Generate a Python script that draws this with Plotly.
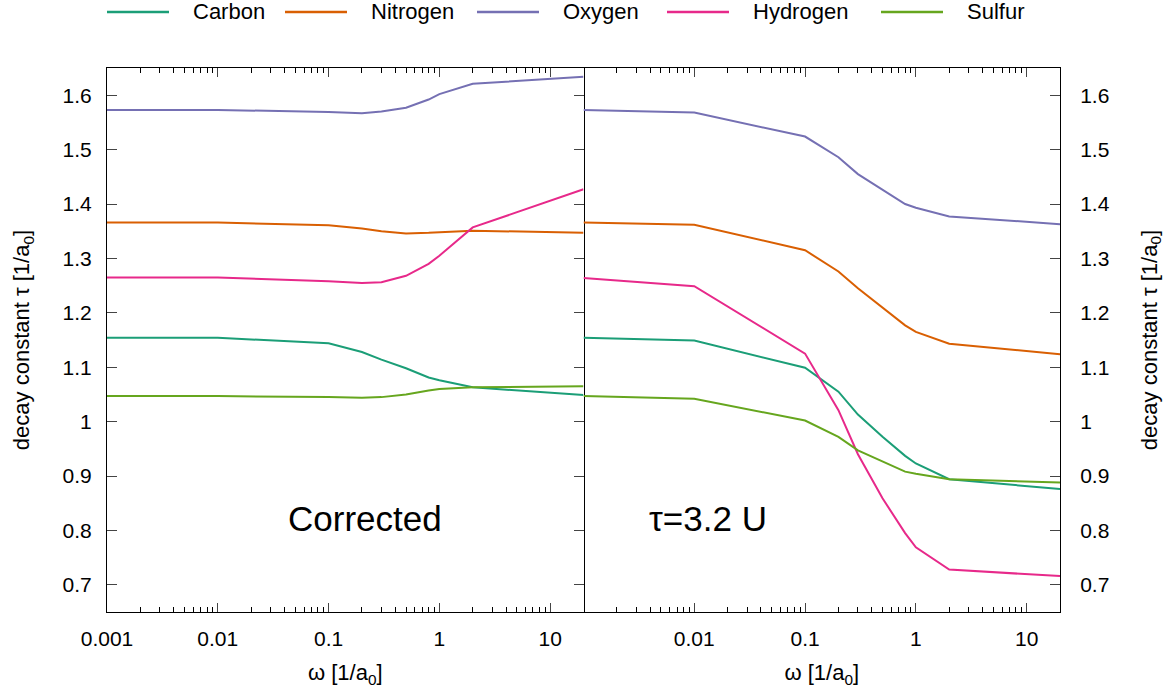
import plotly.graph_objects as go

# Frequency grid (1/a0) shared by both panels
omega = [0.001, 0.01, 0.1, 0.2, 0.3, 0.5, 0.8, 1, 2, 20]

elements = ["Carbon", "Nitrogen", "Oxygen", "Hydrogen", "Sulfur"]
colors = ["#1b9e77", "#d95f02", "#7570b3", "#e7298a", "#66a61e"]

# Left panel: corrected decay constants
corr_carbon = [1.154, 1.154, 1.144, 1.128, 1.114, 1.098, 1.081, 1.076, 1.063, 1.049]
corr_nitrogen = [1.366, 1.366, 1.361, 1.355, 1.350, 1.346, 1.347, 1.348, 1.351, 1.347]
corr_oxygen = [1.573, 1.573, 1.569, 1.567, 1.570, 1.577, 1.592, 1.602, 1.621, 1.634]
corr_hydrogen = [1.265, 1.265, 1.258, 1.255, 1.256, 1.268, 1.290, 1.305, 1.357, 1.427]
corr_sulfur = [1.047, 1.047, 1.045, 1.044, 1.045, 1.050, 1.057, 1.060, 1.063, 1.065]

# Right panel: tau = 3.2 U
u_carbon = [1.154, 1.149, 1.099, 1.055, 1.013, 0.972, 0.937, 0.923, 0.894, 0.876]
u_nitrogen = [1.366, 1.362, 1.315, 1.276, 1.245, 1.209, 1.177, 1.165, 1.143, 1.124]
u_oxygen = [1.573, 1.568, 1.524, 1.486, 1.455, 1.426, 1.400, 1.393, 1.377, 1.363]
u_hydrogen = [1.264, 1.249, 1.125, 1.021, 0.940, 0.859, 0.795, 0.769, 0.728, 0.716]
u_sulfur = [1.047, 1.042, 1.002, 0.972, 0.947, 0.926, 0.908, 0.904, 0.894, 0.888]

left_series = [corr_carbon, corr_nitrogen, corr_oxygen, corr_hydrogen, corr_sulfur]
right_series = [u_carbon, u_nitrogen, u_oxygen, u_hydrogen, u_sulfur]

y_ticks = [0.7, 0.8, 0.9, 1.0, 1.1, 1.2, 1.3, 1.4, 1.5, 1.6]
y_ticktext = ["0.7", "0.8", "0.9", "1", "1.1", "1.2", "1.3", "1.4", "1.5", "1.6"]
x_ticks_left = [0.001, 0.01, 0.1, 1, 10]
x_ticktext_left = ["0.001", "0.01", "0.1", "1", "10"]
x_ticks_right = [0.01, 0.1, 1, 10]
x_ticktext_right = ["0.01", "0.1", "1", "10"]

FONT = "Liberation Sans, Arial, sans-serif"
W, H = 1175, 693
ML, MR, MT, MB = 107, 115, 68, 81
PW, PH = W - ML - MR, H - MT - MB

fig = go.Figure()
for name, col, yl, yr in zip(elements, colors, left_series, right_series):
    fig.add_trace(go.Scatter(x=omega, y=yl, mode="lines", name=name,
                             line=dict(color=col, width=2),
                             xaxis="x", yaxis="y", showlegend=False))
    fig.add_trace(go.Scatter(x=omega, y=yr, mode="lines", name=name,
                             line=dict(color=col, width=2),
                             xaxis="x2", yaxis="y2", showlegend=False))

minor_vals = [m * 10 ** e for e in range(-3, 2) for m in range(2, 10)]
x_range = [-3, 1.30103]
y_range = [0.65, 1.65]

common_x = dict(type="log", range=x_range, ticks="inside", ticklen=9,
                showline=True, linecolor="black", linewidth=1, mirror="allticks",
                showgrid=False, zeroline=False, ticklabelstandoff=8,
                tickfont=dict(size=21, color="black"),
                minor=dict(tickvals=minor_vals, ticks="inside", ticklen=5,
                           tickcolor="black", showgrid=False),
                title=dict(text="ω [1/a<sub>0</sub>]", font=dict(size=22, color="black"),
                           standoff=15))

y_title_left = dict(text="decay constant τ [1/a<sub>0</sub>]",
                    font=dict(size=22, color="black"), standoff=26)
y_title_right = dict(text="decay constant τ [1/a<sub>0</sub>]",
                     font=dict(size=22, color="black"), standoff=32)

fig.update_layout(
    width=W, height=H,
    margin=dict(l=ML, r=MR, t=MT, b=MB),
    paper_bgcolor="white", plot_bgcolor="white",
    font=dict(family=FONT, color="black"),
    showlegend=False,
    xaxis=dict(domain=[0, 0.5], anchor="y", tickvals=x_ticks_left,
               ticktext=x_ticktext_left, **common_x),
    xaxis2=dict(domain=[0.5, 1], anchor="y2", tickvals=x_ticks_right,
                ticktext=x_ticktext_right, **common_x),
    yaxis=dict(domain=[0, 1], anchor="x", range=y_range, tickvals=y_ticks,
               ticktext=y_ticktext, ticks="inside", ticklen=10,
               showline=True, linecolor="black", linewidth=1, mirror="allticks",
               showgrid=False, zeroline=False, ticklabelstandoff=10,
               tickfont=dict(size=21, color="black"), title=y_title_left),
    yaxis2=dict(domain=[0, 1], anchor="x2", side="right", range=y_range,
                tickvals=y_ticks, ticktext=y_ticktext, ticks="inside", ticklen=10,
                showline=True, linecolor="black", linewidth=1, mirror=False,
                showgrid=False, zeroline=False, ticklabelstandoff=15,
                tickfont=dict(size=21, color="black"), title=y_title_right),
)

# Key above the panels: a line sample followed by the element name
key_line_px = [107, 285, 477, 667, 881]
key_line_len, key_text_gap, key_y_px = 62, 84, 12
key_y = (H - MB - key_y_px) / PH
for name, col, x0 in zip(elements, colors, key_line_px):
    fig.add_shape(type="line", xref="paper", yref="paper",
                  x0=(x0 - ML) / PW, x1=(x0 + key_line_len - ML) / PW,
                  y0=key_y, y1=key_y, line=dict(color=col, width=2.5))
    fig.add_annotation(text=name, xref="paper", yref="paper",
                       x=(x0 + key_text_gap - ML) / PW, y=key_y,
                       xanchor="left", yanchor="middle", showarrow=False,
                       font=dict(size=22, color="black", family=FONT))

# Panel labels
label_y = (H - MB - 518) / PH
fig.add_annotation(text="Corrected", xref="paper", yref="paper",
                   x=(365 - ML) / PW, y=label_y, xanchor="center", yanchor="middle",
                   showarrow=False, font=dict(size=35, color="black", family=FONT))
fig.add_annotation(text="τ=3.2 U", xref="paper", yref="paper",
                   x=(708 - ML) / PW, y=label_y, xanchor="center", yanchor="middle",
                   showarrow=False, font=dict(size=35, color="black", family=FONT))

fig.write_html("out.html")
